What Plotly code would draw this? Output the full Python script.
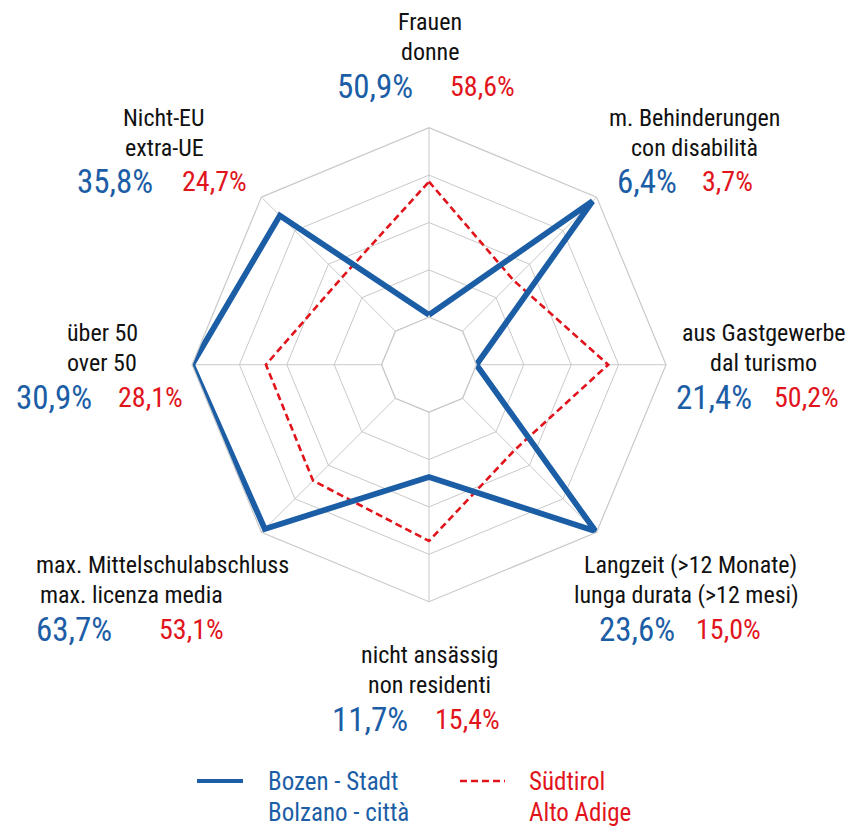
import plotly.graph_objects as go

# ---- data -------------------------------------------------------------
cat_de = ["Frauen", "m. Behinderungen", "aus Gastgewerbe", "Langzeit (>12 Monate)",
          "nicht ansässig", "max. Mittelschulabschluss", "über 50", "Nicht-EU"]
cat_it = ["donne", "con disabilità", "dal turismo", "lunga durata (>12 mesi)",
          "non residenti", "max. licenza media", "over 50", "extra-UE"]
bozen = [50.9, 6.4, 21.4, 23.6, 11.7, 63.7, 30.9, 35.8]      # Bozen - Stadt / Bolzano - città
suedtirol = [58.6, 3.7, 50.2, 15.0, 15.4, 53.1, 28.1, 24.7]  # Südtirol / Alto Adige
# per-axis scale: value at inner ring / value at outer ring
scale_lo = [50.76, 1.96, 21.40, 9.49, 7.95, 34.99, 23.72, 15.10]
scale_hi = [61.72, 6.54, 62.84, 23.71, 18.91, 64.44, 30.90, 39.10]

BLUE = "#1c5ea6"
RED = "#e1141c"
GRID = "#c9c9c9"
FONT = "Roboto Condensed, Liberation Sans, Arial, sans-serif"

W, H = 851, 828
CX, CY, R = 429, 364.7, 237


def scaled(vals):
    return [1 + 4 * (v - lo) / (hi - lo) for v, lo, hi in zip(vals, scale_lo, scale_hi)]


def fmt(v):
    return f"{v:.1f}".replace(".", ",") + "%"


theta = cat_de + [cat_de[0]]

fig = go.Figure()
# inner ring (hole edge)
fig.add_trace(go.Scatterpolar(r=[1] * 9, theta=theta, mode="lines",
                              line=dict(color=GRID, width=1.2), hoverinfo="skip", showlegend=False))
fig.add_trace(go.Scatterpolar(r=scaled(suedtirol) + scaled(suedtirol)[:1], theta=theta, mode="lines",
                              line=dict(color=RED, width=2.6, dash="7px,4px"), showlegend=False))
fig.add_trace(go.Scatterpolar(r=scaled(bozen) + scaled(bozen)[:1], theta=theta, mode="lines",
                              line=dict(color=BLUE, width=5.8), showlegend=False))

fig.update_layout(
    width=W, height=H, margin=dict(l=0, r=0, t=0, b=0),
    paper_bgcolor="white", plot_bgcolor="white", showlegend=False,
    polar=dict(
        domain=dict(x=[(CX - R) / W, (CX + R) / W], y=[(H - CY - R) / H, (H - CY + R) / H]),
        hole=0.2, gridshape="linear", bgcolor="white",
        radialaxis=dict(range=[1, 5], tickvals=[1, 2, 3, 4, 5], showticklabels=False, ticks="",
                        showline=False, gridcolor=GRID, gridwidth=1.2),
        angularaxis=dict(rotation=90, direction="clockwise", showticklabels=False, ticks="",
                         showline=True, linecolor=GRID, linewidth=1.2, gridcolor=GRID, gridwidth=1.2),
    ),
)


def ann(text, x, y, color="#111111", size=24, xanchor="center"):
    fig.add_annotation(text=text, x=x / W, y=1 - y / H, xref="paper", yref="paper",
                       xanchor=xanchor, yanchor="middle", showarrow=False,
                       font=dict(family=FONT, size=size, color=color))


# label layout: (x line1, x line2, y of first line, x blue value, x red value, anchors)
label_pos = [
    (430, 430, 22, 375, 482, ("center", "center", "center")),
    (694, 694, 118, 647, 727, ("center", "center", "center")),
    (764, 763, 333, 714, 806, ("center", "center", "center")),
    (690, 686, 565, 637, 728, ("center", "center", "center")),
    (430, 430, 655, 370, 467, ("center", "center", "center")),
    (34, 38, 565, 74, 191, ("left", "left", "center")),
    (102, 102, 333, 54, 150, ("center", "center", "center")),
    (164, 164, 118, 115, 214, ("center", "center", "center")),
]
for i, (lx1, lx2, ly, bx, rx, anc) in enumerate(label_pos):
    ann(cat_de[i], lx1, ly, xanchor=anc[0])
    ann(cat_it[i], lx2, ly + 30, xanchor=anc[1])
    ann(fmt(bozen[i]), bx, ly + 64, color=BLUE, size=33)
    ann(fmt(suedtirol[i]), rx, ly + 64, color=RED, size=28, xanchor=anc[2])

# legend
fig.add_shape(type="line", xref="paper", yref="paper", x0=197 / W, x1=243 / W,
              y0=1 - 781 / H, y1=1 - 781 / H, line=dict(color=BLUE, width=4))
fig.add_shape(type="line", xref="paper", yref="paper", x0=460 / W, x1=505 / W,
              y0=1 - 781 / H, y1=1 - 781 / H, line=dict(color=RED, width=2.6, dash="7px,4px"))
ann("Bozen - Stadt", 266, 781, color=BLUE, size=25, xanchor="left")
ann("Bolzano - città", 266, 812, color=BLUE, size=25, xanchor="left")
ann("Südtirol", 527, 781, color=RED, size=25, xanchor="left")
ann("Alto Adige", 527, 812, color=RED, size=25, xanchor="left")

fig.write_html("out.html", config={"displayModeBar": False},
               post_script="document.body.style.margin='0';")
